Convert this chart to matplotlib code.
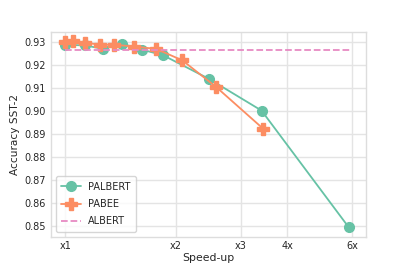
import numpy as np
import matplotlib
matplotlib.use('Agg')
from matplotlib import pyplot as plt
import seaborn as sns

# speed-up vs accuracy on SST-2
palbert_speedup = [1.0, 1.13, 1.27, 1.43, 1.62, 1.84, 2.46, 3.41, 5.88]
palbert_acc = [0.9289, 0.9286, 0.9271, 0.9293, 0.9267, 0.9244, 0.9140, 0.9003, 0.8496]

pabee_speedup = [1.0, 1.053, 1.133, 1.24, 1.36, 1.54, 1.765, 2.08, 2.57, 3.44]
pabee_acc = [0.9300, 0.9304, 0.9297, 0.9290, 0.9289, 0.9281, 0.9271, 0.9221, 0.9105, 0.8925]

albert_acc = 0.9268
albert_range = [1.0, 6.0]

xticks = [1, 2, 3, 4, 6]
xticklabels = ['x1', 'x2', 'x3', '4x', '6x']

sns.set_theme(style='whitegrid', palette='Set2')
plt.rcParams['font.family'] = ['DejaVu Sans']
colors = sns.color_palette('Set2')

fig, ax = plt.subplots(figsize=(4.07, 2.71), dpi=100)
ax.plot(palbert_speedup, palbert_acc, marker='o', markersize=7, color=colors[0],
        linewidth=1.3, label='PALBERT')
ax.plot(pabee_speedup, pabee_acc, marker='P', markersize=8, color=colors[1],
        linewidth=1.3, label='PABEE')
ax.plot(albert_range, [albert_acc, albert_acc], linestyle='--', color=colors[3],
        linewidth=1.3, label='ALBERT')

ax.set_xscale('log')
ax.set_xticks(xticks)
ax.set_xticklabels(xticklabels)
ax.minorticks_off()
ax.set_yticks(np.arange(0.85, 0.931, 0.01))
ax.set_yticklabels(['%.2f' % v for v in np.arange(0.85, 0.931, 0.01)])
ax.tick_params(labelsize=7, length=0, pad=3.5)
ax.grid(color='#e4e4e4', linewidth=1)
for sp in ax.spines.values():
    sp.set_color('#dddddd')
    sp.set_linewidth(1)
ax.set_xlabel('Speed-up', fontsize=7.8, labelpad=1)
ax.set_ylabel('Accuracy SST-2', fontsize=7.6, labelpad=3)
ax.legend(loc='lower left', fontsize=7, labelspacing=0.75, borderpad=0.55)

fig.subplots_adjust(left=0.125, right=0.9, top=0.882, bottom=0.127)
fig.savefig('out.png', dpi=100)
